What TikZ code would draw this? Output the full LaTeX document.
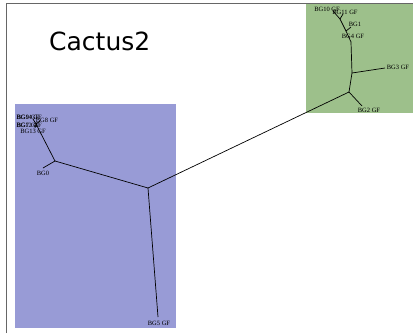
\documentclass[tikz,border=0pt]{standalone}
\usepackage{fontspec}
\setmainfont{Liberation Serif}
\newfontfamily\titlefont{DejaVu Sans}
\begin{document}
\begin{tikzpicture}[x=1pt,y=-1pt,
  edge/.style={draw=black,line width=0.7pt},
  leaflabel/.style={inner sep=0pt,font=\fontsize{6.5}{7}\selectfont},
  region/.style={draw=none},
  frameline/.style={draw=black!60,line width=0.9pt}]
\useasboundingbox (0,0) rectangle (413,333);
\fill[white] (0,0) rectangle (413,333);
% regions
\fill[region,fill={rgb,255:red,152;green,155;blue,214}] (15,104) rectangle (176,328);
\fill[region,fill={rgb,255:red,157;green,192;blue,139}] (306,4) rectangle (413,113);
% frame
\draw[frameline] (6,333) -- (6,3) -- (413,3);
% title
\node[anchor=base west,inner sep=0pt,font=\titlefont\fontsize{25}{30}\selectfont] (title) at (49,50) {Cactus2};
% tree coordinates
\coordinate (c1) at (148,188);
\coordinate (b1) at (55,161);
\coordinate (b2) at (36,124);
\coordinate (e5) at (158,317);
\coordinate (e0) at (43,168);
\coordinate (e13) at (35,128);
\coordinate (e8) at (40,121);
\coordinate (e14) at (33,119);
\coordinate (g1) at (349,92);
\coordinate (g2) at (352,73);
\coordinate (g3) at (351,42);
\coordinate (g4) at (346,31);
\coordinate (g5) at (340,19);
\coordinate (e2) at (362,106);
\coordinate (e3) at (385,68);
\coordinate (e1) at (351,27);
\coordinate (e11) at (343,14);
\coordinate (e10) at (333,11);
% edges
\draw[edge] (c1) -- (e5);
\draw[edge] (c1) -- (b1);
\draw[edge] (b1) -- (e0);
\draw[edge] (b1) -- (b2);
\draw[edge] (b2) -- (e13);
\draw[edge] (b2) -- (e8);
\draw[edge] (b2) -- (e14);
\draw[edge] (c1) -- (g1);
\draw[edge] (g1) -- (e2);
\draw[edge] (g1) -- (g2);
\draw[edge] (g2) -- (e3);
\draw[edge] (g2) -- (g3);
\draw[edge] (g3) -- (g4);
\draw[edge] (g4) -- (e1);
\draw[edge] (g4) -- (g5);
\draw[edge] (g5) -- (e11);
\draw[edge] (g5) -- (e10);
% labels
\node[leaflabel] (l5) at (159,323) {BG5 GF};
\node[leaflabel] (l0) at (43,173) {BG0};
\node[leaflabel] (l14) at (29,117) {BG14 GF};
\node[leaflabel] (l9) at (28,117) {BG9 GF};
\node[leaflabel] (l8) at (47,120) {BG8 GF};
\node[leaflabel] (l12) at (29,125) {BG12 GF};
\node[leaflabel] (l7) at (28,125) {BG7 GF};
\node[leaflabel] (l13) at (33,131) {BG13 GF};
\node[leaflabel] (l2) at (369,110) {BG2 GF};
\node[leaflabel] (l3) at (398,67) {BG3 GF};
\node[leaflabel] (l4) at (353,36) {BG4 GF};
\node[leaflabel] (l1) at (355,24) {BG1};
\node[leaflabel] (l11) at (345,12) {BG11 GF};
\node[leaflabel] (l10) at (327,9) {BG10 GF};
\end{tikzpicture}
\end{document}
